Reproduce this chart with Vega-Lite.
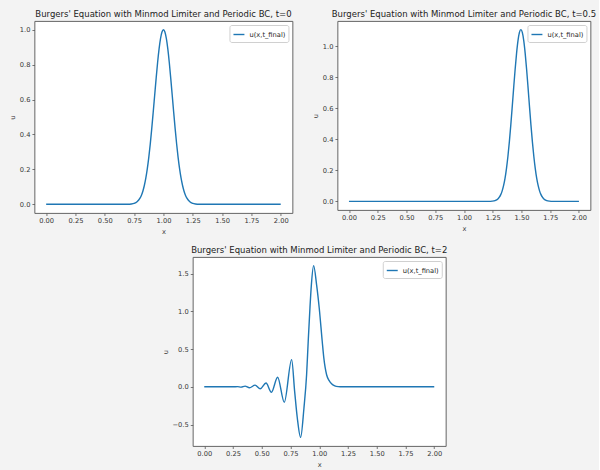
{
  "$schema": "https://vega.github.io/schema/vega-lite/v6.json",
  "background": "#f3f3f3",
  "padding": {"left": 8, "top": 9, "right": 2, "bottom": 2},
  "config": {
    "font": "DejaVu Sans",
    "view": {"fill": "white", "stroke": "#555", "strokeWidth": 0.9},
    "axis": {
      "domain": false, "grid": false,
      "tickSize": 2.5, "tickColor": "#555", "tickWidth": 0.8,
      "labelFont": "DejaVu Sans", "labelFontSize": 6.7, "labelColor": "#333", "labelPadding": 2,
      "titleFont": "DejaVu Sans", "titleFontSize": 6.7, "titleFontWeight": "normal", "titleColor": "#333", "titlePadding": 4
    },
    "title": {"font": "DejaVu Sans", "fontSize": 8.5, "fontWeight": "normal", "color": "#222", "offset": 3, "anchor": "middle"},
    "legend": {
      "orient": "top-right", "offset": 4, "labelFont": "DejaVu Sans", "labelFontSize": 6.7, "labelColor": "#222",
      "symbolType": "stroke", "symbolSize": 120, "symbolStrokeWidth": 1.4,
      "strokeColor": "#d0d0d0", "fillColor": "white", "padding": 3, "cornerRadius": 2, "rowPadding": 0
    },
    "line": {"strokeWidth": 1.4}
  },
  "datasets": {
    "t0": [
      {"x": 0.0, "u": 0}, {"x": 0.5, "u": 0}, {"x": 0.7, "u": 0.0005}, {"x": 0.725, "u": 0.0017},
      {"x": 0.75, "u": 0.0052}, {"x": 0.775, "u": 0.0142}, {"x": 0.8, "u": 0.0347}, {"x": 0.8125, "u": 0.052},
      {"x": 0.825, "u": 0.0763}, {"x": 0.8375, "u": 0.109}, {"x": 0.85, "u": 0.151}, {"x": 0.8625, "u": 0.204},
      {"x": 0.875, "u": 0.269}, {"x": 0.8875, "u": 0.345}, {"x": 0.9, "u": 0.432}, {"x": 0.9125, "u": 0.526},
      {"x": 0.925, "u": 0.623}, {"x": 0.9375, "u": 0.72}, {"x": 0.95, "u": 0.811}, {"x": 0.9625, "u": 0.889},
      {"x": 0.975, "u": 0.949}, {"x": 0.9875, "u": 0.987}, {"x": 1.0, "u": 1.0}, {"x": 1.0125, "u": 0.987},
      {"x": 1.025, "u": 0.949}, {"x": 1.0375, "u": 0.889}, {"x": 1.05, "u": 0.811}, {"x": 1.0625, "u": 0.72},
      {"x": 1.075, "u": 0.623}, {"x": 1.0875, "u": 0.526}, {"x": 1.1, "u": 0.432}, {"x": 1.1125, "u": 0.345},
      {"x": 1.125, "u": 0.269}, {"x": 1.1375, "u": 0.204}, {"x": 1.15, "u": 0.151}, {"x": 1.1625, "u": 0.109},
      {"x": 1.175, "u": 0.0763}, {"x": 1.1875, "u": 0.052}, {"x": 1.2, "u": 0.0347}, {"x": 1.225, "u": 0.0142},
      {"x": 1.25, "u": 0.0052}, {"x": 1.275, "u": 0.0017}, {"x": 1.3, "u": 0.0005}, {"x": 1.5, "u": 0}, {"x": 2.0, "u": 0}
    ],
    "t05": [
      {"x": 0.0, "u": 0}, {"x": 1.0, "u": 0}, {"x": 1.22, "u": 0.0003}, {"x": 1.245, "u": 0.0015},
      {"x": 1.27, "u": 0.0053}, {"x": 1.295, "u": 0.0162}, {"x": 1.3075, "u": 0.027}, {"x": 1.32, "u": 0.0436},
      {"x": 1.3325, "u": 0.068}, {"x": 1.345, "u": 0.103}, {"x": 1.3575, "u": 0.15}, {"x": 1.37, "u": 0.213},
      {"x": 1.3825, "u": 0.291}, {"x": 1.395, "u": 0.385}, {"x": 1.4075, "u": 0.493}, {"x": 1.42, "u": 0.611},
      {"x": 1.4325, "u": 0.733}, {"x": 1.445, "u": 0.85}, {"x": 1.4575, "u": 0.954}, {"x": 1.47, "u": 1.036},
      {"x": 1.4825, "u": 1.089}, {"x": 1.495, "u": 1.107}, {"x": 1.5075, "u": 1.089}, {"x": 1.52, "u": 1.036},
      {"x": 1.5325, "u": 0.954}, {"x": 1.545, "u": 0.85}, {"x": 1.5575, "u": 0.733}, {"x": 1.57, "u": 0.611},
      {"x": 1.5825, "u": 0.493}, {"x": 1.595, "u": 0.385}, {"x": 1.6075, "u": 0.291}, {"x": 1.62, "u": 0.213},
      {"x": 1.6325, "u": 0.15}, {"x": 1.645, "u": 0.103}, {"x": 1.6575, "u": 0.068}, {"x": 1.67, "u": 0.0436},
      {"x": 1.6825, "u": 0.027}, {"x": 1.695, "u": 0.0162}, {"x": 1.72, "u": 0.0053}, {"x": 1.745, "u": 0.0015},
      {"x": 1.77, "u": 0.0003}, {"x": 1.85, "u": 0}, {"x": 2.0, "u": 0}
    ],
    "t2": [
      {"x": 0.0, "u": 0}, {"x": 0.25, "u": 0}, {"x": 0.29, "u": 0.002}, {"x": 0.32, "u": -0.004},
      {"x": 0.355, "u": 0.009}, {"x": 0.393, "u": -0.013}, {"x": 0.442, "u": 0.022}, {"x": 0.487, "u": -0.026},
      {"x": 0.537, "u": 0.05}, {"x": 0.584, "u": -0.072}, {"x": 0.638, "u": 0.127}, {"x": 0.696, "u": -0.205},
      {"x": 0.76, "u": 0.36}, {"x": 0.786, "u": -0.06}, {"x": 0.809, "u": -0.41}, {"x": 0.838, "u": -0.67},
      {"x": 0.867, "u": -0.28}, {"x": 0.89, "u": 0.16}, {"x": 0.904, "u": 0.6}, {"x": 0.919, "u": 1.04},
      {"x": 0.932, "u": 1.36}, {"x": 0.951, "u": 1.605}, {"x": 0.977, "u": 1.35}, {"x": 1.0, "u": 1.04},
      {"x": 1.026, "u": 0.6}, {"x": 1.04, "u": 0.38}, {"x": 1.064, "u": 0.16}, {"x": 1.085, "u": 0.085},
      {"x": 1.107, "u": 0.04}, {"x": 1.135, "u": 0.013}, {"x": 1.165, "u": 0.003}, {"x": 1.2, "u": 0},
      {"x": 2.0, "u": 0}
    ]
  },
  "vconcat": [
    {
      "hconcat": [
        {
          "width": 258, "height": 192,
          "title": "Burgers' Equation with Minmod Limiter and Periodic BC, t=0",
          "data": {"name": "t0"},
          "mark": {"type": "line", "interpolate": "monotone"},
          "encoding": {
            "x": {"field": "x", "type": "quantitative", "scale": {"domain": [-0.1, 2.1], "nice": false, "zero": false},
                  "axis": {"values": [0, 0.25, 0.5, 0.75, 1.0, 1.25, 1.5, 1.75, 2.0], "format": ".2f", "title": "x"}},
            "y": {"field": "u", "type": "quantitative", "scale": {"domain": [-0.05, 1.05], "nice": false, "zero": false},
                  "axis": {"values": [0, 0.2, 0.4, 0.6, 0.8, 1.0], "format": ".1f", "title": "u"}},
            "color": {"datum": "u(x,t_final)", "type": "nominal", "scale": {"range": ["#1f77b4"]}, "legend": {"title": null}}
          }
        },
        {
          "width": 253, "height": 189,
          "title": "Burgers' Equation with Minmod Limiter and Periodic BC, t=0.5",
          "data": {"name": "t05"},
          "mark": {"type": "line", "interpolate": "monotone"},
          "encoding": {
            "x": {"field": "x", "type": "quantitative", "scale": {"domain": [-0.1, 2.1], "nice": false, "zero": false},
                  "axis": {"values": [0, 0.25, 0.5, 0.75, 1.0, 1.25, 1.5, 1.75, 2.0], "format": ".2f", "title": "x"}},
            "y": {"field": "u", "type": "quantitative", "scale": {"domain": [-0.0554, 1.1624], "nice": false, "zero": false},
                  "axis": {"values": [0, 0.2, 0.4, 0.6, 0.8, 1.0], "format": ".1f", "title": "u"}},
            "color": {"datum": "u(x,t_final)", "type": "nominal", "scale": {"range": ["#1f77b4"]}, "legend": {"title": null}}
          }
        }
      ],
      "spacing": 18,
      "resolve": {"scale": {"color": "independent"}, "legend": {"color": "independent"}}
    },
    {
      "hconcat": [
        {
          "width": 2, "height": 1,
          "data": {"values": []},
          "mark": {"type": "point", "opacity": 0},
          "encoding": {},
          "view": {"stroke": "transparent", "fill": "transparent"}
        },
        {
          "width": 253, "height": 189,
          "title": "Burgers' Equation with Minmod Limiter and Periodic BC, t=2",
          "data": {"name": "t2"},
          "mark": {"type": "line", "interpolate": "monotone"},
          "encoding": {
            "x": {"field": "x", "type": "quantitative", "scale": {"domain": [-0.1, 2.1], "nice": false, "zero": false},
                  "axis": {"values": [0, 0.25, 0.5, 0.75, 1.0, 1.25, 1.5, 1.75, 2.0], "format": ".2f", "title": "x"}},
            "y": {"field": "u", "type": "quantitative", "scale": {"domain": [-0.784, 1.719], "nice": false, "zero": false},
                  "axis": {"values": [-0.5, 0, 0.5, 1.0, 1.5], "format": ".1f", "title": "u"}},
            "color": {"datum": "u(x,t_final)", "type": "nominal", "scale": {"range": ["#1f77b4"]}, "legend": {"title": null}}
          }
        },
        {
          "width": 23, "height": 1,
          "data": {"values": []},
          "mark": {"type": "point", "opacity": 0},
          "encoding": {},
          "view": {"stroke": "transparent", "fill": "transparent"}
        }
      ],
      "spacing": 0,
      "resolve": {"scale": {"color": "independent"}, "legend": {"color": "independent"}}
    }
  ],
  "spacing": 9,
  "center": true,
  "resolve": {"scale": {"color": "independent"}, "legend": {"color": "independent"}}
}
